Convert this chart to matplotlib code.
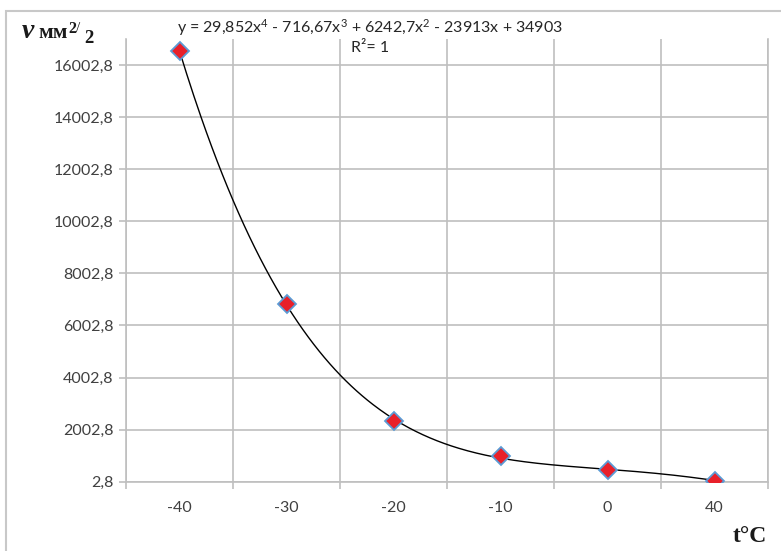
import numpy as np
import matplotlib
matplotlib.use("Agg")
import matplotlib.pyplot as plt
from matplotlib.patches import Rectangle

# ---- data ----
categories = ["-40", "-30", "-20", "-10", "0", "40"]
viscosity = [16545, 6820, 2330, 985, 460, 45]
trend_coeffs = [29.852, -716.67, 6242.7, -23913, 34903]  # shown trendline equation
y_ticks = [2.8, 2002.8, 4002.8, 6002.8, 8002.8, 10002.8, 12002.8, 14002.8, 16002.8]
y_tick_labels = ["2,8", "2002,8", "4002,8", "6002,8", "8002,8", "10002,8", "12002,8", "14002,8", "16002,8"]
equation_text = "y = 29,852x$^4$ - 716,67x$^3$ + 6242,7x$^2$ - 23913x + 34903"
r2_text = "R²= 1"

plt.rcParams['font.family'] = ['Lato', 'DejaVu Sans']
plt.rcParams['mathtext.fontset'] = 'custom'
plt.rcParams['mathtext.rm'] = 'Lato'
plt.rcParams['mathtext.it'] = 'Lato'

W, H = 781, 551
fig = plt.figure(figsize=(W / 100, H / 100), dpi=100)
ax = fig.add_axes([126 / W, 1 - 481.7 / H, (768 - 126) / W, (481.7 - 39) / H])

grid_c = "#bfbfbf"
text_c = "#404040"

x = np.arange(1, len(categories) + 1)
# trendline
xs = np.linspace(1, len(categories), 300)
ax.plot(xs, np.polyval(trend_coeffs, xs), color="black", lw=1.0, zorder=3)
ax.plot(x, viscosity, linestyle="none", marker="D", ms=9, mfc="#e8202a",
        mec="#5b9bd5", mew=1.3, zorder=4)

ax.set_xlim(0.5, len(categories) + 0.5)
ax.set_ylim(2.8, 17002.8)
ax.set_yticks(y_ticks)
ax.set_yticklabels(y_tick_labels)
ax.set_xticks(x)
ax.set_xticklabels(categories)
ax.set_xticks(np.arange(0.5, len(categories) + 1, 1), minor=True)

ax.tick_params(axis="y", which="major", length=5, width=1.2, color=grid_c,
               labelsize=11.5, labelcolor=text_c, pad=4)
ax.tick_params(axis="x", which="major", length=0, labelsize=11.5,
               labelcolor=text_c, pad=14)
ax.tick_params(axis="x", which="minor", length=5, width=1.2, color=grid_c)

ax.grid(True, axis="y", which="major", color=grid_c, lw=1.2)
ax.grid(True, axis="x", which="minor", color=grid_c, lw=1.2)
ax.set_axisbelow(True)

ax.spines["top"].set_visible(False)
for s in ["left", "bottom", "right"]:
    ax.spines[s].set_color(grid_c)
    ax.spines[s].set_linewidth(1.2)

# figure border (cropped chart frame)
fig.patches.append(Rectangle((6 / W, -0.1), 1.2, 1.1 - 11 / H, transform=fig.transFigure,
                             fill=False, edgecolor="#c8c8c8", lw=1.5))

# trendline labels
fig.text(370 / W, 1 - 28 / H, equation_text, ha="center", va="center",
         fontsize=11.5, color="#262626")
fig.text(351 / W, 1 - 48 / H, r2_text, ha="left", va="center",
         fontsize=11.5, color="#262626")

# axis titles
tc = "#1a1a1a"
fig.text(22 / W, 1 - 38 / H, "v", fontfamily="Liberation Serif", fontweight="bold",
         fontstyle="italic", fontsize=20, ha="left", va="baseline", color=tc)
fig.text(38 / W, 1 - 38 / H, "мм", fontfamily="Liberation Serif", fontweight="bold",
         fontsize=15.5, ha="left", va="baseline", color=tc)
fig.text(68 / W, 1 - 33 / H, "2", fontfamily="Liberation Serif", fontweight="bold",
         fontsize=11.5, ha="left", va="baseline", color=tc)
fig.text(76 / W, 1 - 32 / H, "/", fontfamily="Liberation Serif",
         fontsize=11, ha="left", va="baseline", color=tc)
fig.text(84 / W, 1 - 43 / H, "2", fontfamily="Liberation Serif", fontweight="bold",
         fontsize=13.5, ha="left", va="baseline", color=tc)
fig.text(767 / W, 1 - 542 / H, "t°C", fontfamily="Liberation Serif", fontweight="bold",
         fontsize=17, ha="right", va="baseline", color=tc)

fig.savefig("out.png", dpi=100)
